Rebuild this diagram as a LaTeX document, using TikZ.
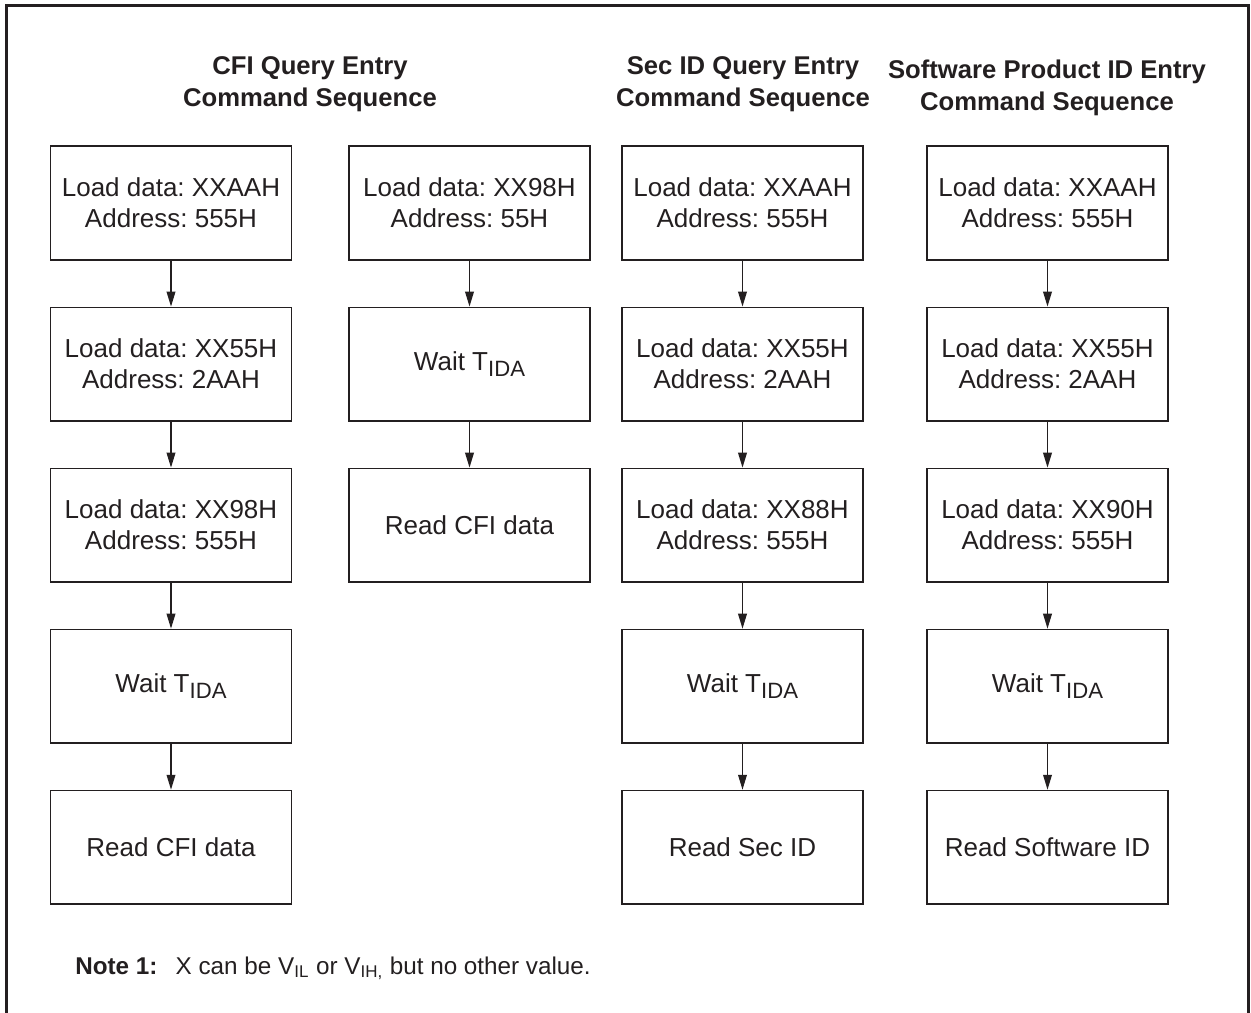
\documentclass[tikz,border=0pt]{standalone}
\usepackage{fontspec}
\setmainfont{Liberation Sans}
\usepackage{xcolor}
\usetikzlibrary{arrows.meta, positioning}
\definecolor{InkGray}{HTML}{231F20}
\frenchspacing
\newcommand{\tida}{T\raisebox{-3.8pt}{\fontsize{12.6}{13}\selectfont IDA}}

\begin{document}
\begin{tikzpicture}[x=0.02cm, y=-0.02cm,
    stepbox/.style={draw=InkGray, line width=0.9pt, minimum width=4.82cm,
                    minimum height=2.27cm, inner sep=0pt, align=center,
                    text=InkGray, font=\fontsize{14.8}{17.6}\selectfont},
    flow/.style={draw=InkGray, line width=0.7pt,
                 -{Triangle[length=8.5pt, width=5pt]}},
    heading/.style={align=center, text=InkGray,
                    font=\fontsize{14.6}{18}\selectfont\bfseries},
    node distance=0.92cm]
    \useasboundingbox (0,0) rectangle (1251,1012);
    % outer frame
    \draw[InkGray, line width=1.7pt] (6.5,1040) |- (1248,5) -- (1248,1040);

    % headings
    \node[heading] (cfiTitle) at (310,84) {CFI Query Entry\\Command Sequence};
    \node[heading] (secTitle) at (743,84) {Sec ID Query Entry\\Command Sequence};
    \node[heading] (swTitle) at (1047,88) {Software Product ID Entry\\Command Sequence};

    % CFI query entry, first column
    \node[stepbox] (cfiA) at (171,203) {Load data: XXAAH\\Address: 555H};
    \node[stepbox, below=of cfiA] (cfiB) {Load data: XX55H\\Address: 2AAH};
    \node[stepbox, below=of cfiB] (cfiC) {Load data: XX98H\\Address: 555H};
    \node[stepbox, below=of cfiC] (cfiD) {Wait \tida};
    \node[stepbox, below=of cfiD] (cfiE) {Read CFI data};

    % CFI query entry, second column
    \node[stepbox] (altA) at (469.5,203) {Load data: XX98H\\Address: 55H};
    \node[stepbox, below=of altA] (altB) {Wait \tida};
    \node[stepbox, below=of altB] (altC) {Read CFI data};

    % Sec ID query entry
    \node[stepbox] (secA) at (742.5,203) {Load data: XXAAH\\Address: 555H};
    \node[stepbox, below=of secA] (secB) {Load data: XX55H\\Address: 2AAH};
    \node[stepbox, below=of secB] (secC) {Load data: XX88H\\Address: 555H};
    \node[stepbox, below=of secC] (secD) {Wait \tida};
    \node[stepbox, below=of secD] (secE) {Read Sec ID};

    % Software product ID entry
    \node[stepbox] (swA) at (1047.5,203) {Load data: XXAAH\\Address: 555H};
    \node[stepbox, below=of swA] (swB) {Load data: XX55H\\Address: 2AAH};
    \node[stepbox, below=of swB] (swC) {Load data: XX90H\\Address: 555H};
    \node[stepbox, below=of swC] (swD) {Wait \tida};
    \node[stepbox, below=of swD] (swE) {Read Software ID};

    \foreach \a/\b in {cfiA/cfiB, cfiB/cfiC, cfiC/cfiD, cfiD/cfiE,
                       altA/altB, altB/altC,
                       secA/secB, secB/secC, secC/secD, secD/secE,
                       swA/swB, swB/swC, swC/swD, swD/swE}
        \draw[flow] (\a) -- (\b);

    % note
    \node[anchor=base west, text=InkGray, inner sep=0pt,
          font=\fontsize{13.8}{16}\selectfont] (note) at (75,974)
        {\textbf{Note 1:}\hspace{0.75em}X can be V\textsubscript{IL} or V\textsubscript{IH,} but no other value.};
\end{tikzpicture}
\end{document}
